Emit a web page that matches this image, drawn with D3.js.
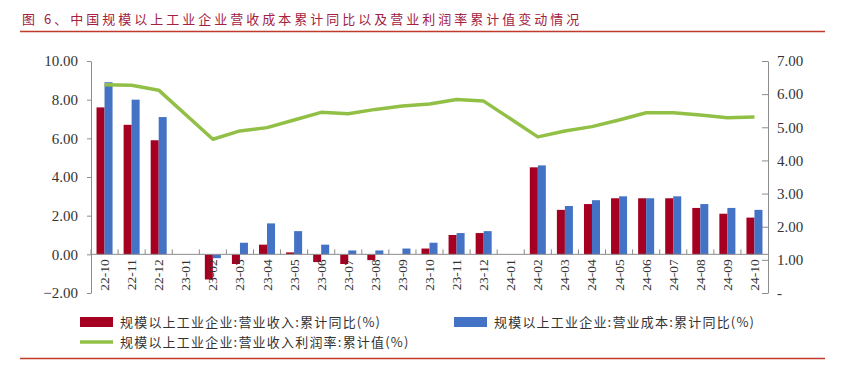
<!DOCTYPE html>
<html>
<head>
<meta http-equiv="Content-Type" content="text/html; charset=utf-8" />
    <script src="https://cdn.jsdelivr.net/npm/d3@7/dist/d3.min.js"></script>
	<title>Industrial revenue cost margin</title>
	<style>
		body { margin: 0; background: #fff; }
	</style>
</head>
<body>
	<svg width="842" height="365" id="mainsvg"></svg>
	<script>
		// data (null = no data that month)
		const months = ['22-10','22-11','22-12','23-01','23-02','23-03','23-04','23-05','23-06','23-07',
			'23-08','23-09','23-10','23-11','23-12','24-01','24-02','24-03','24-04','24-05','24-06',
			'24-07','24-08','24-09','24-10'];
		const revenueYoy = [7.6, 6.7, 5.9, null, -1.3, -0.5, 0.5, 0.1, -0.4, -0.5,
			-0.3, 0, 0.3, 1.0, 1.1, null, 4.5, 2.3, 2.6, 2.9, 2.9,
			2.9, 2.4, 2.1, 1.9];
		const costYoy = [8.9, 8.0, 7.1, null, -0.2, 0.6, 1.6, 1.2, 0.5, 0.2,
			0.2, 0.3, 0.6, 1.1, 1.2, null, 4.6, 2.5, 2.8, 3.0, 2.9,
			3.0, 2.6, 2.4, 2.3];
		const profitMargin = [6.28, 6.27, 6.12, null, 4.64, 4.89, 4.99, 5.22, 5.45, 5.41,
			5.54, 5.64, 5.70, 5.84, 5.79, null, 4.71, 4.89, 5.02, 5.22, 5.44,
			5.44, 5.37, 5.29, 5.31];
		const leftTicks = [-2, 0, 2, 4, 6, 8, 10];
		const rightTicks = [0, 1, 2, 3, 4, 5, 6, 7];

		const titleText = '图 6、中国规模以上工业企业营收成本累计同比以及营业利润率累计值变动情况';
		const seriesNames = ['规模以上工业企业:营业收入:累计同比(%)', '规模以上工业企业:营业成本:累计同比(%)',
			'规模以上工业企业:营业收入利润率:累计值(%)'];
		const colors = ['#a50021', '#4472c4', '#92c047'];

		let svg = d3.select("#mainsvg");
		const plotLeft = 91, plotRight = 768, plotTop = 61, plotBottom = 293;
		const serif = '"Liberation Serif", "Times New Roman", serif';
		const cjk = '"Noto Sans CJK SC", sans-serif';

		// title + rule lines
		svg.append('text')
			.attr('x', 22).attr('y', 24)
			.attr('font-family', cjk).attr('font-size', 13)
			.attr('letter-spacing', 3)
			.attr('fill', '#a3203f')
			.text(titleText);
		svg.append('line').attr('x1', 20).attr('x2', 825).attr('y1', 31.5).attr('y2', 31.5)
			.attr('stroke', '#c0392b').attr('stroke-width', 1.5);
		svg.append('line').attr('x1', 20).attr('x2', 825).attr('y1', 358.5).attr('y2', 358.5)
			.attr('stroke', '#c0392b').attr('stroke-width', 1.5);

		let x = d3.scaleBand().domain(months).range([plotLeft, plotRight]).padding(0);
		let xSub = d3.scaleBand().domain(['rev', 'cost']).range([0, x.bandwidth()]).paddingInner(0).paddingOuter(0.69);
		let yL = d3.scaleLinear().domain([-2, 10]).range([plotBottom, plotTop]);
		let yR = d3.scaleLinear().domain([0, 7]).range([plotBottom, plotTop]);

		// left axis
		let gL = svg.append('g').attr('transform', `translate(${plotLeft},0)`)
			.call(d3.axisLeft(yL).tickValues(leftTicks).tickFormat(d3.format('.2f')).tickSizeInner(4).tickSizeOuter(0).tickPadding(9));
		// right axis, ticks inside
		let gR = svg.append('g').attr('transform', `translate(${plotRight},0)`)
			.call(d3.axisRight(yR).tickValues(rightTicks).tickFormat(d => d === 0 ? '-' : d.toFixed(2)).tickSizeInner(-6).tickSizeOuter(0).tickPadding(9));
		[gL, gR].forEach(g => {
			g.select('.domain').attr('stroke', '#8c8c8c');
			g.selectAll('.tick line').attr('stroke', '#8c8c8c');
			g.selectAll('.tick text').attr('font-family', serif).attr('font-size', 15).attr('fill', '#333');
		});

		// bars
		const barData = [];
		months.forEach((m, i) => {
			if (revenueYoy[i] !== null) barData.push({m: m, k: 'rev', v: revenueYoy[i]});
			if (costYoy[i] !== null) barData.push({m: m, k: 'cost', v: costYoy[i]});
		});
		svg.selectAll('.bar').data(barData).join('rect')
			.attr('class', 'bar')
			.attr('x', d => x(d.m) + xSub(d.k))
			.attr('width', xSub.bandwidth())
			.attr('y', d => Math.min(yL(d.v), yL(0)))
			.attr('height', d => Math.abs(yL(d.v) - yL(0)))
			.attr('fill', d => d.k === 'rev' ? colors[0] : colors[1]);

		// category axis at zero
		const y0 = yL(0);
		svg.append('line').attr('x1', plotLeft).attr('x2', plotRight).attr('y1', y0).attr('y2', y0)
			.attr('stroke', '#8c8c8c');
		svg.selectAll('.ctick').data(months).join('line')
			.attr('class', 'ctick')
			.attr('x1', d => x(d)).attr('x2', d => x(d))
			.attr('y1', y0).attr('y2', y0 - 5)
			.attr('stroke', '#8c8c8c');
		svg.selectAll('.clabel').data(months).join('text')
			.attr('class', 'clabel')
			.attr('transform', d => `translate(${x(d) + x.bandwidth() / 2 + 4.5},${y0 + 5}) rotate(-90)`)
			.attr('text-anchor', 'end')
			.attr('font-family', serif).attr('font-size', 13.5).attr('fill', '#333')
			.text(d => d);

		// profit margin line (gaps joined)
		const linePts = months.map((m, i) => ({m: m, v: profitMargin[i]})).filter(d => d.v !== null);
		svg.append('path').datum(linePts)
			.attr('fill', 'none').attr('stroke', colors[2]).attr('stroke-width', 3.5)
			.attr('stroke-linejoin', 'round')
			.attr('d', d3.line().x(d => x(d.m) + x.bandwidth() / 2).y(d => yR(d.v)));

		// legend
		const legend = [
			{name: seriesNames[0], c: colors[0], type: 'rect', x: 80, y: 322},
			{name: seriesNames[1], c: colors[1], type: 'rect', x: 454, y: 322},
			{name: seriesNames[2], c: colors[2], type: 'line', x: 80, y: 342}
		];
		let lg = svg.selectAll('.lg').data(legend).join('g').attr('class', 'lg')
			.attr('transform', d => `translate(${d.x},${d.y})`);
		lg.filter(d => d.type === 'rect').append('rect')
			.attr('x', 0).attr('y', -5).attr('width', 33).attr('height', 10).attr('fill', d => d.c);
		lg.filter(d => d.type === 'line').append('line')
			.attr('x1', 0).attr('x2', 33).attr('y1', 0).attr('y2', 0)
			.attr('stroke', d => d.c).attr('stroke-width', 3.5);
		lg.append('text')
			.attr('x', 40).attr('y', 0).attr('dy', '0.36em')
			.attr('font-family', cjk).attr('font-size', 13).attr('letter-spacing', 1.2).attr('fill', '#333')
			.text(d => d.name);
	</script>
</body>
</html>
